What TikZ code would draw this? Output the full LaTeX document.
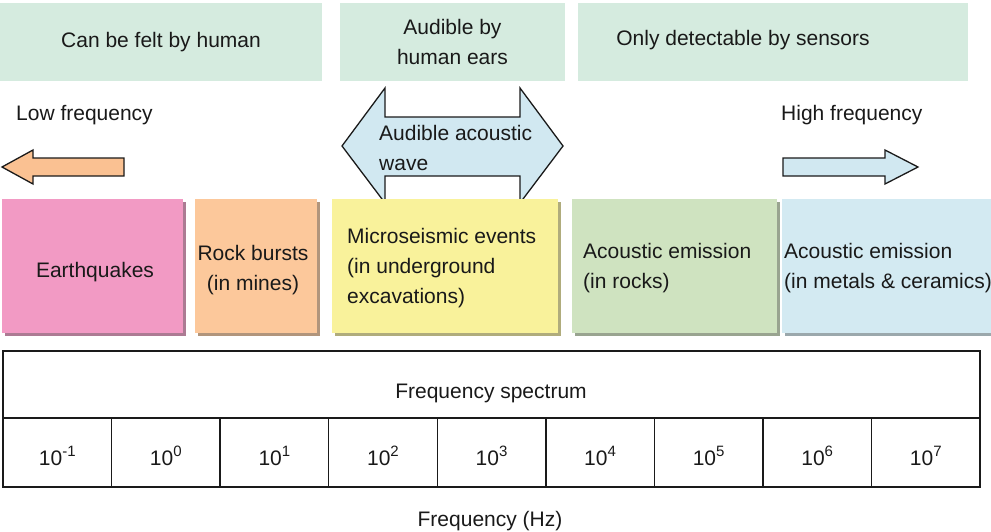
\documentclass[tikz,border=0pt]{standalone}
\usepackage{fontspec}
\setmainfont{Liberation Sans}
\definecolor{topgreen}{HTML}{D5EBDF}
\definecolor{cpink}{HTML}{F29AC4}
\definecolor{corange}{HTML}{FCC89B}
\definecolor{cyellow}{HTML}{F9F29B}
\definecolor{cgreen}{HTML}{CFE3C0}
\definecolor{cblue}{HTML}{D3EAF2}
\definecolor{arrblue}{HTML}{D1E8F1}
\definecolor{arrorange}{HTML}{FAC192}
\definecolor{edge}{HTML}{1A1A1A}
\newcommand{\mysup}[1]{\raisebox{0.42em}{\fontsize{15}{15}\selectfont #1}}
\begin{document}
\begin{tikzpicture}[x=1pt,y=-1pt,
  every node/.style={font=\fontsize{21}{30}\selectfont, text=black!90},
  topbox/.style={fill=topgreen, draw=none, inner sep=0pt, align=center},
  blockarrow/.style={draw=edge, line width=1.3pt, line join=miter},
  table/.style={draw=edge, line width=1.4pt},
  cell/.style={inner sep=0pt}
]
\useasboundingbox (0,0) rectangle (991,531);

% top boxes
\node[topbox, minimum width=322pt, minimum height=78pt] (t1) at (161,42) {Can be felt by human};
\node[topbox, minimum width=225pt, minimum height=78pt] (t2) at (452.5,42) {Audible by\\human ears};
\node[topbox, minimum width=390pt, minimum height=78pt] (t3) at (773,42) {};
\node (t3txt) at (743,40) {Only detectable by sensors};

% frequency labels
\node[anchor=west, inner sep=0pt] (low) at (16,115) {Low frequency};
\node[anchor=west, inner sep=0pt] (high) at (781,115) {High frequency};

% left orange arrow
\draw[blockarrow, fill=arrorange] (2,167) -- (33,150) -- (33,158) -- (124,158) -- (124,176) -- (33,176) -- (33,184) -- cycle;
% right blue arrow
\draw[blockarrow, fill=arrblue] (918,167) -- (885,150) -- (885,158) -- (783,158) -- (783,176) -- (885,176) -- (885,184) -- cycle;
% double arrow
\draw[blockarrow, fill=arrblue] (342,146) -- (385,88) -- (385,117) -- (520,117) -- (520,88) -- (563,146) -- (520,203) -- (520,176) -- (385,176) -- (385,203) -- cycle;
\node[anchor=west, inner sep=0pt, align=left] (aud) at (379,148) {Audible acoustic\\wave};

% category boxes with shadows
\foreach \xa/\xb/\col in {2/183/cpink, 195/317/corange, 332/558/cyellow, 572/777/cgreen, 782/995/cblue}{
  \fill[\col!65!black!85] (\xa+3,202) rectangle (\xb+3,336);
  \fill[\col] (\xa,199) rectangle (\xb,333);
}
\node (eq) at (95,272) {Earthquakes};
\node[align=center] (rb) at (253,270) {Rock bursts\\(in mines)};
\node[anchor=west, align=left, inner sep=0pt] (ms) at (347,268) {Microseismic events\\(in underground\\excavations)};
\node[anchor=west, align=left, inner sep=0pt] (aer) at (583,268) {Acoustic emission\\(in rocks)};
\node[anchor=west, align=left, inner sep=0pt] (aem) at (784,268) {Acoustic emission\\(in metals \& ceramics)};

% frequency table
\draw[table] (3,351) rectangle (980,487);
\draw[table] (3,418) -- (980,418);
\node (fs) at (491,393) {Frequency spectrum};
\foreach \i/\e in {0/-1,1/0,2/1,3/2,4/3,5/4,6/5,7/6,8/7}{
  \node[cell] (c\i) at ({3+108.56*\i+54.28},456) {10\mysup{\e}};
}
\foreach \i in {1,...,8}{
  \draw[table] ({3+108.56*\i},418) -- ({3+108.56*\i},487);
}
\node (fhz) at (490,521) {Frequency (Hz)};
\end{tikzpicture}
\end{document}
